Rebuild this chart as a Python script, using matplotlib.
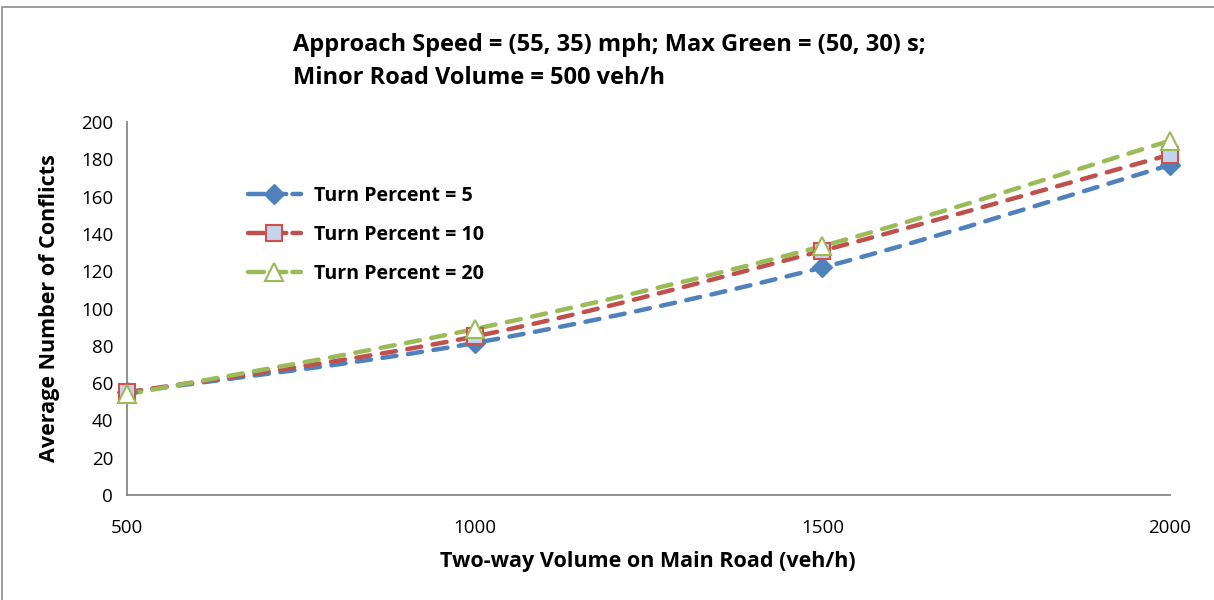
import matplotlib
matplotlib.use("Agg")
import matplotlib.pyplot as plt
from matplotlib.path import Path
from matplotlib.patches import PathPatch, Rectangle
from matplotlib.lines import Line2D
import numpy as np

plt.rcParams['font.family'] = ['Open Sans', 'DejaVu Sans']

volumes = [500, 1000, 1500, 2000]
turn5 = [55, 81.5, 122, 177]
turn10 = [55, 85, 131, 182.5]
turn20 = [54, 89, 133.5, 190]
labels = ["Turn Percent = 5", "Turn Percent = 10", "Turn Percent = 20"]
title_lines = ["Approach Speed = (55, 35) mph; Max Green = (50, 30) s;",
               "Minor Road Volume = 500 veh/h"]
xlabel = "Two-way Volume on Main Road (veh/h)"
ylabel = "Average Number of Conflicts"
yticks = list(range(0, 201, 20))

W, H = 1214, 600
fig = plt.figure(figsize=(W / 100, H / 100), dpi=100)
fig.patches.append(Rectangle((2 / W, -0.1), 1.2, (H - 7) / H + 0.1, transform=fig.transFigure,
                             fill=False, edgecolor='#8c8c8c', lw=1.2))

ax = fig.add_axes([127 / W, (H - 495) / H, (1170 - 127) / W, (495 - 122) / H])
ax.set_xlim(500, 2000)
ax.set_ylim(0, 200)
for s in ['top', 'right']:
    ax.spines[s].set_visible(False)
for s in ['left', 'bottom']:
    ax.spines[s].set_color('#888888')
    ax.spines[s].set_linewidth(1.3)
ax.set_yticks(yticks)
ax.set_xticks(volumes)
ax.tick_params(length=0, labelsize=13.5, pad=10)
ax.tick_params(axis='x', pad=17)


def smooth_path(xs, ys):
    # Catmull-Rom style Bezier (Excel smoothing) through data points
    xs = np.asarray(xs, float)
    ys = np.asarray(ys, float)
    n = len(xs)
    verts = [(xs[0], ys[0])]
    codes = [Path.MOVETO]
    for i in range(n - 1):
        p0 = (xs[max(i - 1, 0)], ys[max(i - 1, 0)])
        p1 = (xs[i], ys[i])
        p2 = (xs[i + 1], ys[i + 1])
        p3 = (xs[min(i + 2, n - 1)], ys[min(i + 2, n - 1)])
        c1 = (p1[0] + (p2[0] - p0[0]) / 6, p1[1] + (p2[1] - p0[1]) / 6)
        c2 = (p2[0] - (p3[0] - p1[0]) / 6, p2[1] - (p3[1] - p1[1]) / 6)
        verts += [c1, c2, p2]
        codes += [Path.CURVE4] * 3
    return Path(verts, codes)


series = [
    (turn5, '#4F81BD', dict(marker='D', markersize=10, markerfacecolor='#4F81BD', markeredgecolor='#4F81BD')),
    (turn10, '#C0504D', dict(marker='s', markersize=12, markerfacecolor='#C5D4EA', markeredgecolor='#D0504D', markeredgewidth=1.5)),
    (turn20, '#9BBB59', dict(marker='^', markersize=13, markerfacecolor='white', markeredgecolor='#9BBB59', markeredgewidth=1.5)),
]
dash = (0, (3.2, 2.6))
handles = []
for (vals, col, mk), lab in zip(series, labels):
    patch = PathPatch(smooth_path(volumes, vals), fill=False, edgecolor=col, lw=3.2,
                      linestyle=dash, capstyle='round', zorder=2)
    ax.add_patch(patch)
for (vals, col, mk), lab in zip(series, labels):
    ax.plot(volumes, vals, linestyle='none', zorder=3, clip_on=False, **mk)
    handles.append(Line2D([], [], color=col, lw=3.2, linestyle=(0, (3.6, 1.4)),
                          dash_capstyle='round', **mk))

leg = ax.legend(handles, labels, loc='upper left', bbox_to_anchor=(230 / W, (H - 168) / H),
                bbox_transform=fig.transFigure, frameon=False, handlelength=2.7,
                labelspacing=0.98, handletextpad=0.7, prop={'weight': 'bold', 'size': 14.1})

fig.text(293 / W, 1 - 45 / H, title_lines[0], fontsize=17, fontweight='bold', va='center', ha='left')
fig.text(293 / W, 1 - 78 / H, title_lines[1], fontsize=17, fontweight='bold', va='center', ha='left')
fig.text(648 / W, 1 - 562 / H, xlabel, fontsize=15.5, fontweight='bold', va='center', ha='center')
fig.text(50 / W, 1 - 308 / H, ylabel, fontsize=15.5, fontweight='bold', va='center', ha='center',
         rotation=90)

fig.savefig('out.png', dpi=100)
